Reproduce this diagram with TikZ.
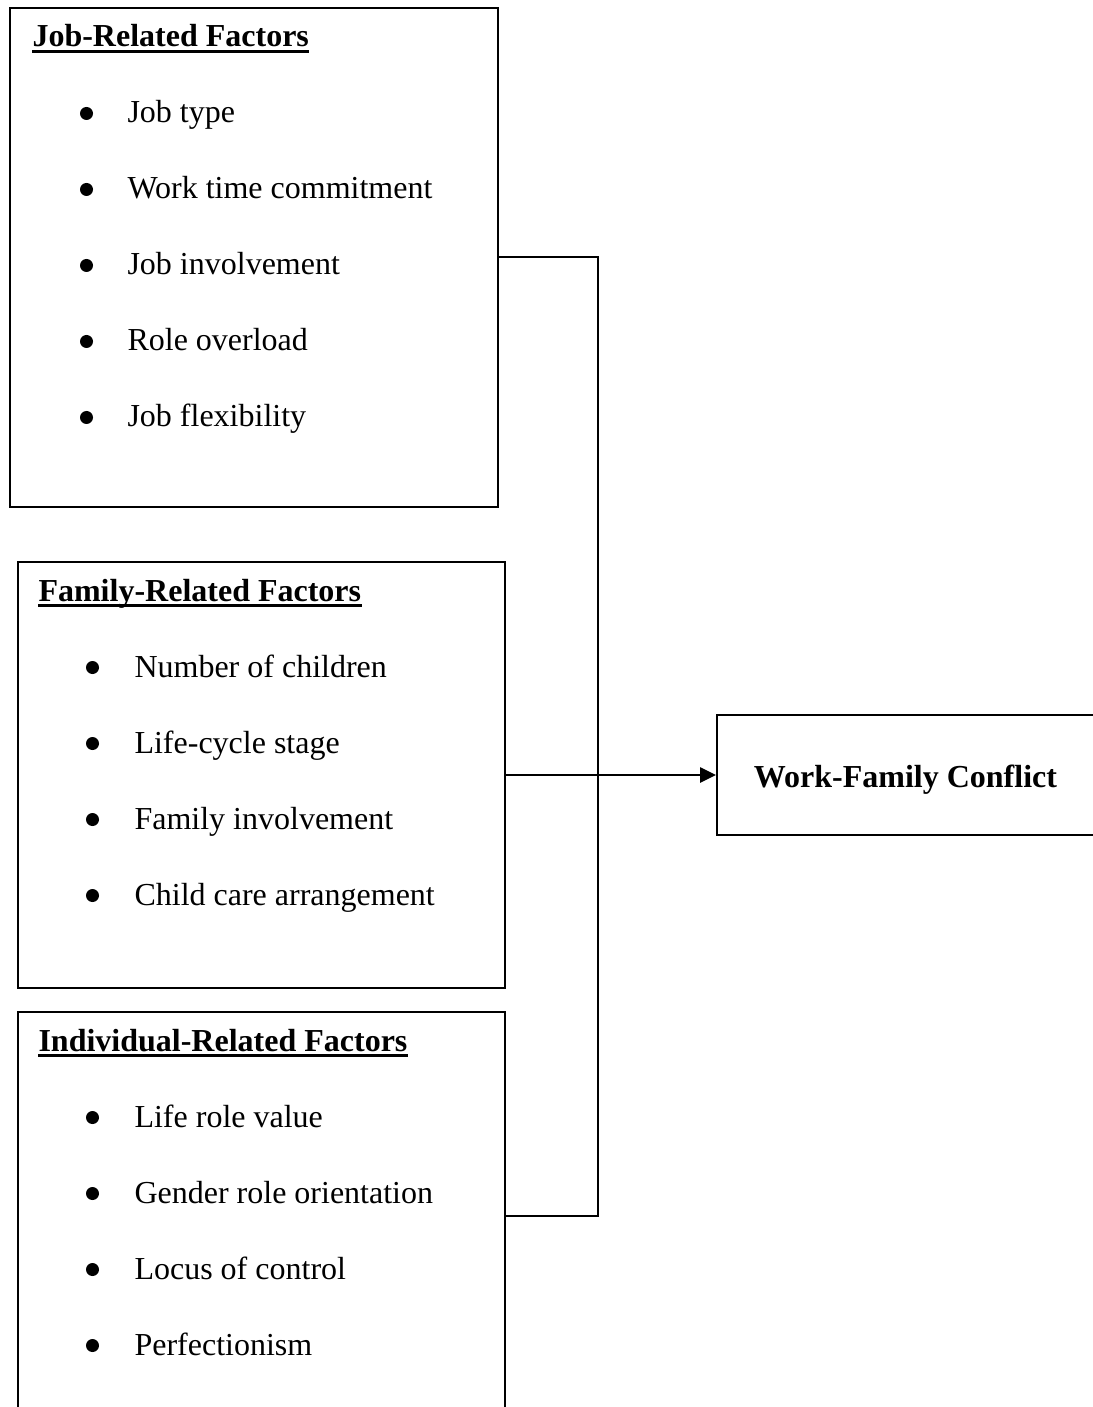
\documentclass[tikz,border=0pt]{standalone}
\usepackage{fontspec}
\setmainfont{Liberation Serif}
\usepackage{tikz}
\usetikzlibrary{arrows.meta,positioning,fit}

\begin{document}
\begin{tikzpicture}[x=0.375pt, y=-0.375pt, font=\fontsize{12}{14}\selectfont,
    fbox/.style={draw=black, line width=0.75pt, inner sep=0pt},
    head/.style={anchor=base west, inner sep=0pt, font=\fontsize{12}{14}\selectfont\bfseries},
    item/.style={anchor=base west, inner sep=0pt},
    uline/.style={line width=1.2pt},
    link/.style={line width=0.75pt},
    arr/.style={-{Triangle[length=6pt,width=5.6pt]}, line width=1.05pt}]
\useasboundingbox (0,0) rectangle (1092,1407);
% boxes
\node[fbox, fit={(10,8) (498,507)}] (job) {};
\node[fbox, fit={(18,562) (505,988)}] (fam) {};
\node[fbox, fit={(18,1012) (505,1420)}] (ind) {};
\node[fbox, fit={(717,715) (1094,835)}] (wfc) {};
\node[head, anchor=base] (wfctext) at (905.5,787) {Work-Family Conflict};
% headings
\node[head] (jobhead) at (32,47) {Job-Related Factors};
\node[head] (famhead) at (38,601) {Family-Related Factors};
\node[head] (indhead) at (38,1051) {Individual-Related Factors};
\foreach \h in {jobhead,famhead,indhead} {
  \draw[uline] ([yshift=-1.8pt]\h.base west) -- ([yshift=-1.8pt]\h.base east);
}
% bullet items
\foreach \txt [count=\i] in {Job type, Work time commitment, Job involvement, Role overload, Job flexibility} {
  \node[item] (job\i) at (127,{123+76*(\i-1)}) {\txt};
  \fill (86.5,{113.5+76*(\i-1)}) circle (6.5);
}
\foreach \txt [count=\i] in {Number of children, Life-cycle stage, Family involvement, Child care arrangement} {
  \node[item] (fam\i) at (134,{677+76*(\i-1)}) {\txt};
  \fill (92.5,{667.5+76*(\i-1)}) circle (6.5);
}
\foreach \txt [count=\i] in {Life role value, Gender role orientation, Locus of control, Perfectionism} {
  \node[item] (ind\i) at (134,{1127+76*(\i-1)}) {\txt};
  \fill (92.5,{1117.5+76*(\i-1)}) circle (6.5);
}
% connectors
\coordinate (junc) at (598,775);
\draw[link] (job.east) -| (junc) |- (ind.east);
\draw[arr] (fam.east) -- (wfc.west);
\end{tikzpicture}
\end{document}
